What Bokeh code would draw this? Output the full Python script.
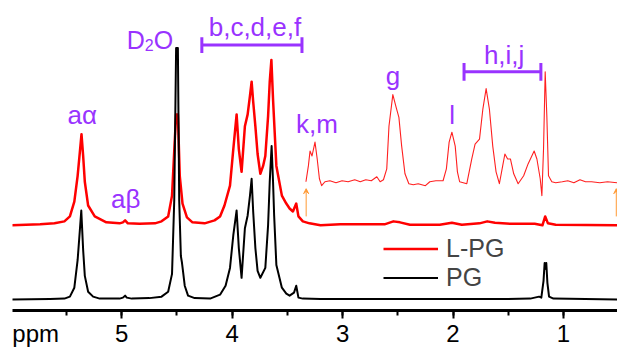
from bokeh.plotting import figure
from bokeh.models import (Range1d, SingleIntervalTicker, FixedTicker, LinearAxis, Legend,
                          LegendItem, Arrow, VeeHead, CustomJSTickFormatter, CustomLabelingPolicy)
from bokeh.core.properties import value
from bokeh.embed import file_html
from bokeh.resources import INLINE

# ---------------- data (ppm, relative intensity) ----------------
PG = [(6.00, 0), (5.65, 0.5), (5.52, 1), (5.47, 3), (5.43, 12), (5.40, 40),
      (5.38, 70), (5.367, 90), (5.35, 50), (5.335, 24), (5.305, 8), (5.26, 3),
      (5.20, 1), (5.02, 1), (4.99, 2), (4.97, 4), (4.955, 2), (4.91, 1),
      (4.75, 1.5), (4.64, 3), (4.58, 8), (4.545, 26), (4.525, 100), (4.508, 254),
      (4.492, 254), (4.48, 100), (4.465, 44), (4.456, 38), (4.447, 30), (4.43, 14),
      (4.40, 4), (4.34, 1.5), (4.20, 1), (4.11, 5), (4.06, 14), (4.02, 32),
      (3.99, 65), (3.96, 90), (3.94, 52), (3.915, 22), (3.885, 72), (3.86, 85),
      (3.84, 104), (3.824, 122), (3.81, 89), (3.79, 52), (3.77, 29), (3.745, 22),
      (3.70, 32), (3.675, 75), (3.66, 119), (3.643, 155), (3.63, 119), (3.62, 85),
      (3.60, 35), (3.55, 12), (3.51, 6), (3.48, 4), (3.44, 7), (3.42, 14),
      (3.40, 2), (3.36, 1), (3.20, 0.5), (2.48, 0.5), (1.57, 0.5), (1.30, 1),
      (1.22, 3), (1.20, 2), (1.18, 19), (1.17, 37), (1.165, 31), (1.155, 37),
      (1.145, 17), (1.13, 3), (1.09, 1), (0.51, 0)]

LPG = [(6.00, 0), (5.74, 1), (5.61, 2), (5.52, 4), (5.47, 9), (5.43, 24),
       (5.40, 50), (5.38, 74), (5.365, 92), (5.35, 70), (5.335, 44), (5.305, 20),
       (5.245, 9), (5.14, 3), (5.02, 2), (4.99, 3), (4.97, 5), (4.945, 2),
       (4.84, 1.5), (4.70, 2), (4.64, 4), (4.58, 9), (4.545, 30), (4.525, 75),
       (4.508, 112), (4.492, 112), (4.475, 50), (4.45, 22), (4.41, 8), (4.36, 3),
       (4.25, 2), (4.16, 5), (4.11, 9), (4.07, 20), (4.02, 40), (3.99, 77),
       (3.96, 112), (3.94, 77), (3.915, 54), (3.885, 100), (3.86, 112), (3.84, 130),
       (3.824, 145), (3.81, 125), (3.79, 100), (3.77, 72), (3.745, 52), (3.72, 60),
       (3.70, 70), (3.675, 110), (3.66, 145), (3.645, 167), (3.63, 127), (3.60, 60),
       (3.55, 30), (3.51, 22), (3.48, 17), (3.45, 14), (3.42, 22), (3.40, 9),
       (3.36, 4), (3.30, 2), (3.20, 0), (3.02, 1), (2.62, 1), (2.54, 4),
       (2.48, 3), (2.39, 0.5), (2.12, 0.5), (2.01, 2.5), (1.92, 0.5), (1.76, 2),
       (1.69, 4), (1.62, 2.5), (1.48, 1.5), (1.26, 1.5), (1.19, 0), (1.165, 9),
       (1.14, 2), (1.07, 0.5), (0.51, 0)]

LPG_ZOOM = [(3.332, 0), (3.31, 16), (3.295, 31), (3.277, 26), (3.25, 40),
            (3.23, 23), (3.21, 3), (3.19, -4), (3.16, 0), (3.115, 1), (3.06, -1),
            (3.005, 1), (2.95, 0), (2.89, 2), (2.84, 0), (2.79, 2), (2.74, 1),
            (2.69, 5), (2.66, 0), (2.63, 2), (2.60, 13), (2.58, 56), (2.545, 88),
            (2.515, 75), (2.49, 65), (2.465, 36), (2.435, 8), (2.40, -2),
            (2.36, -3), (2.315, -2), (2.25, -4), (2.21, 0), (2.155, 1), (2.09, 1),
            (2.06, 13), (2.035, 40), (2.01, 50), (1.98, 36), (1.96, 10), (1.94, 0),
            (1.875, -2), (1.83, 23), (1.80, 38), (1.76, 43), (1.73, 73), (1.70, 94),
            (1.67, 73), (1.64, 36), (1.61, 10), (1.58, -2), (1.55, 16), (1.53, 28),
            (1.505, 23), (1.48, 23), (1.45, 8), (1.41, -2), (1.36, 6), (1.32, 18),
            (1.265, 31), (1.24, 23), (1.21, 3), (1.195, -14), (1.18, 33),
            (1.165, 111), (1.15, 66), (1.135, 6), (1.105, 0), (1.07, -1), (1.01, 0),
            (0.96, 1), (0.905, -1), (0.85, 2), (0.80, 0), (0.745, 0), (0.67, -1),
            (0.60, 0), (0.51, -1)]

series_names = ["L-PG", "PG"]
peak_labels = ["a\u03b1", "a\u03b2", "b,c,d,e,f", "k,m", "g", "l", "h,i,j"]
axis_unit = "ppm"
tick_values = [5, 4, 3, 2, 1]

# ---------------- styling / layout constants ----------------
PURPLE = "#9933FF"
FONT = "Liberation Sans"
OFF_PG, OFF_LPG, OFF_ZOOM = 11, 86, 130
UNIT_POS = 5.78
TXT_SHIFT = 7

p = figure(width=617, height=349, x_range=Range1d(5.99, 0.51), y_range=Range1d(0, 313),
           output_backend="svg", toolbar_location=None,
           min_border_left=12, min_border_right=0, min_border_top=0, min_border_bottom=0)
p.yaxis.visible = False
p.grid.visible = False
p.outline_line_color = None
p.background_fill_color = "white"

# axis 1: line + ticks (labels suppressed)
ax = p.xaxis[0]
ax.ticker = SingleIntervalTicker(interval=1, num_minor_ticks=2)
ax.axis_line_width = 3
ax.major_tick_line_width = 2
ax.minor_tick_line_width = 2
ax.major_tick_in = 0
ax.major_tick_out = 8
ax.minor_tick_in = 0
ax.minor_tick_out = 5
ax.major_label_standoff = 0
ax.major_label_text_font_size = "0px"
ax.major_label_policy = CustomLabelingPolicy(code="for (const i of indices) indices.unset(i)")

# axis 2: tick labels row, including the unit label
lab_ax = LinearAxis(ticker=FixedTicker(ticks=[UNIT_POS] + tick_values, minor_ticks=[]),
                    formatter=CustomJSTickFormatter(args=dict(unit=axis_unit, upos=UNIT_POS),
                                                    code="return Math.abs(tick - upos) < 1e-6 ? unit : tick.toFixed(0)"),
                    axis_line_color=None, major_tick_line_color=None, minor_tick_line_color=None,
                    major_tick_in=0, major_tick_out=0, minor_tick_in=0, minor_tick_out=0,
                    major_label_standoff=1, major_label_text_font=FONT,
                    major_label_text_font_size="24px", major_label_text_color="black")
p.add_layout(lab_ax, "below")

def xy(pairs, off):
    return [a for a, _ in pairs], [b + off for _, b in pairs]

x1, y1 = xy(LPG, OFF_LPG)
r_lpg = p.line(x1, y1, line_color="#FF0000", line_width=2.5, line_join="round")
x3, y3 = xy(LPG_ZOOM, OFF_ZOOM)
p.line(x3, y3, line_color="#FF2020", line_width=1.1, line_join="round")
x2, y2 = xy(PG, OFF_PG)
r_pg = p.line(x2, y2, line_color="black", line_width=2, line_join="round")

# orange arrows marking the expanded region
for px in [3.33, 0.521]:
    p.add_layout(Arrow(x_start=px, y_start=95, x_end=px, y_end=123,
                       line_color="#FF9933", line_width=1,
                       end=VeeHead(size=5, line_color="#FF9933", fill_color="#FF9933", line_width=1)))

# peak labels
lab_x = [5.358, 4.964, 3.794, 3.232, 2.543, 2.008, 1.537]
lab_y = [190, 106, 279, 181, 230, 190, 250.5]
p.text(x=lab_x, y=[v + TXT_SHIFT for v in lab_y], text=peak_labels, text_font=value(FONT),
       text_font_size="26px", text_color=PURPLE, text_align="center", text_baseline="alphabetic")
# D2O with subscript
p.text(x=[4.955, 4.711], y=[266 + TXT_SHIFT] * 2, text=["D", "O"], text_font=value(FONT),
       text_font_size="25px", text_color=PURPLE, text_align="left", text_baseline="alphabetic")
p.text(x=[4.792], y=[261 + TXT_SHIFT], text=["2"], text_font=value(FONT),
       text_font_size="16px", text_color=PURPLE, text_align="left", text_baseline="alphabetic")

# brackets
for xa, xb, yb, h in [(4.275, 3.368, 268, 8), (1.90, 1.204, 241, 9)]:
    p.segment(x0=[xa, xa, xb], y0=[yb, yb - h, yb - h], x1=[xb, xa, xb], y1=[yb, yb + h, yb + h],
              line_color=PURPLE, line_width=3)

legend = Legend(items=[LegendItem(label=series_names[0], renderers=[r_lpg]),
                       LegendItem(label=series_names[1], renderers=[r_pg])],
                location=(371, 18.5), padding=0, margin=0, spacing=0,
                glyph_width=55, glyph_height=29, label_height=29, label_standoff=8,
                label_text_font=FONT, label_text_font_size="25px",
                background_fill_alpha=0, border_line_alpha=0)
p.add_layout(legend)

open("out.html", "w").write(file_html(p, INLINE))
